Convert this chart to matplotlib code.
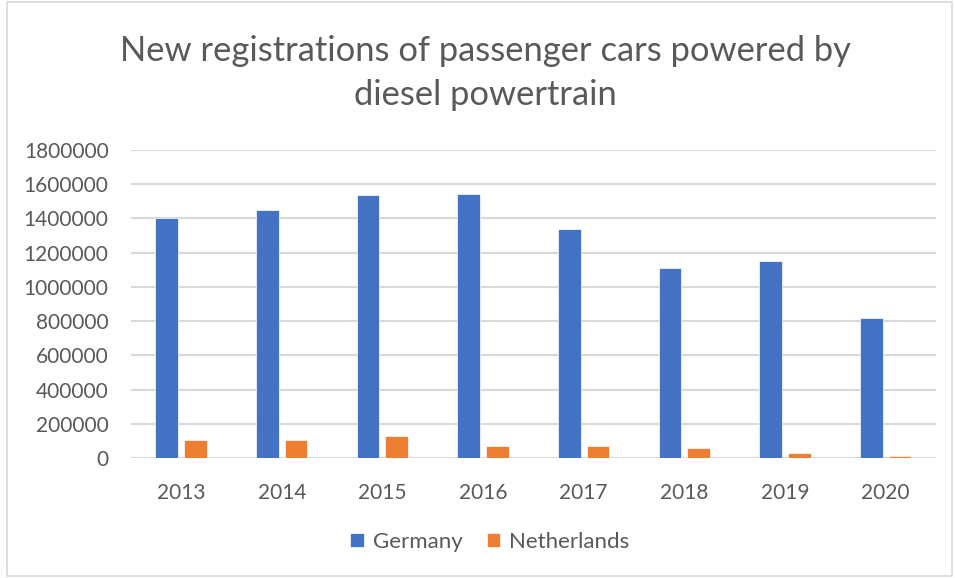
import numpy as np
import matplotlib.pyplot as plt
from matplotlib.patches import Rectangle

years = ['2013', '2014', '2015', '2016', '2017', '2018', '2019', '2020']
germany = [1403000, 1452000, 1539000, 1541000, 1337000, 1111000, 1152000, 819000]
netherlands = [103000, 105000, 130000, 72000, 72000, 56000, 31000, 14000]
y_ticks = list(range(0, 1800001, 200000))

plt.rcParams['font.family'] = ['Lato', 'DejaVu Sans']
text_color = '#595959'

fig = plt.figure(figsize=(9.55, 5.78), dpi=100)
ax = fig.add_axes([0.137, 0.2076, 0.843, 0.5329])

x = np.arange(len(years))
w = 0.225
gap = 0.06
ax.bar(x - (w + gap) / 2, germany, width=w, color='#4472C4', label='Germany',
       edgecolor='white', linewidth=0.5, zorder=3)
ax.bar(x + (w + gap) / 2, netherlands, width=w, color='#ED7D31', label='Netherlands',
       edgecolor='white', linewidth=0.5, zorder=3)

ax.set_xlim(-0.5, len(years) - 0.5)
ax.set_ylim(0, 1800000)
ax.set_yticks(y_ticks)
ax.set_yticklabels([str(v) for v in y_ticks])
ax.set_xticks(x)
ax.set_xticklabels(years)
ax.yaxis.grid(True, color='#d9d9d9', linewidth=1.5, zorder=0)
for s in ax.spines.values():
    s.set_visible(False)
ax.tick_params(axis='both', length=0, labelsize=15, colors=text_color)
ax.tick_params(axis='y', pad=16)
ax.tick_params(axis='x', pad=18)

# title, two centred lines
fig.text(0.508, 0.912, 'New registrations of passenger cars powered by',
         ha='center', va='center', fontsize=24.8, color=text_color)
fig.text(0.508, 0.836, 'diesel powertrain',
         ha='center', va='center', fontsize=24.8, color=text_color)

fig.legend(loc='center', bbox_to_anchor=(0.513, 0.062), ncol=2, frameon=False,
           fontsize=16, labelcolor=text_color, handlelength=0.6, handleheight=0.6,
           columnspacing=1.1, handletextpad=0.4)

fig.patches.append(Rectangle((0.007, 0.003), 0.99, 0.994, transform=fig.transFigure,
                             fill=False, edgecolor='#d9d9d9', linewidth=1.2))

fig.savefig('out.png', dpi=100)
